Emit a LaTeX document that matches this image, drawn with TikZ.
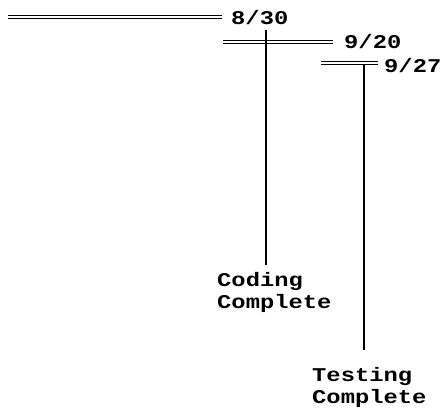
\documentclass[tikz,border=0pt]{standalone}
\usepackage{fontspec}
\newfontfamily\labfont[FakeStretch=1.22]{Liberation Mono}
\begin{document}
\begin{tikzpicture}[x=1pt,y=-1pt,
  dbl/.style={draw=black,double=white,double distance=1.6pt,line width=0.9pt},
  bar/.style={draw=black,line width=2pt},
  lab/.style={font=\labfont\bfseries\fontsize{19.5}{21.5}\selectfont,inner sep=0pt,anchor=base west,text=black},
  mile/.style={lab,align=left}]
\useasboundingbox (0,0) rectangle (447,408);
% date labels
\node[lab] (d1) at (231,24) {8/30};
\node[lab] (d2) at (344,48) {9/20};
\node[lab] (d3) at (384,72) {9/27};
% double line ends
\coordinate (a1) at (8,17);   \coordinate (b1) at (222,17);
\coordinate (a2) at (223,42); \coordinate (b2) at (333,42);
\coordinate (a3) at (321,63); \coordinate (b3) at (378,63);
\draw[dbl] (a1) -- (b1);
\draw[dbl] (a2) -- (b2);
\draw[dbl] (a3) -- (b3);
% milestone labels (base anchor = last line's baseline)
\node[mile] (m1) at (217,308) {Coding\\Complete};
\node[mile] (m2) at (312,403) {Testing\\Complete};
\coordinate (t1) at (266,30);  \coordinate (e1) at (266,265);
\coordinate (t2) at (364,64);  \coordinate (e2) at (364,350);
\draw[bar] (t1) -- (e1);
\draw[bar] (t2) -- (e2);
\end{tikzpicture}
\end{document}
